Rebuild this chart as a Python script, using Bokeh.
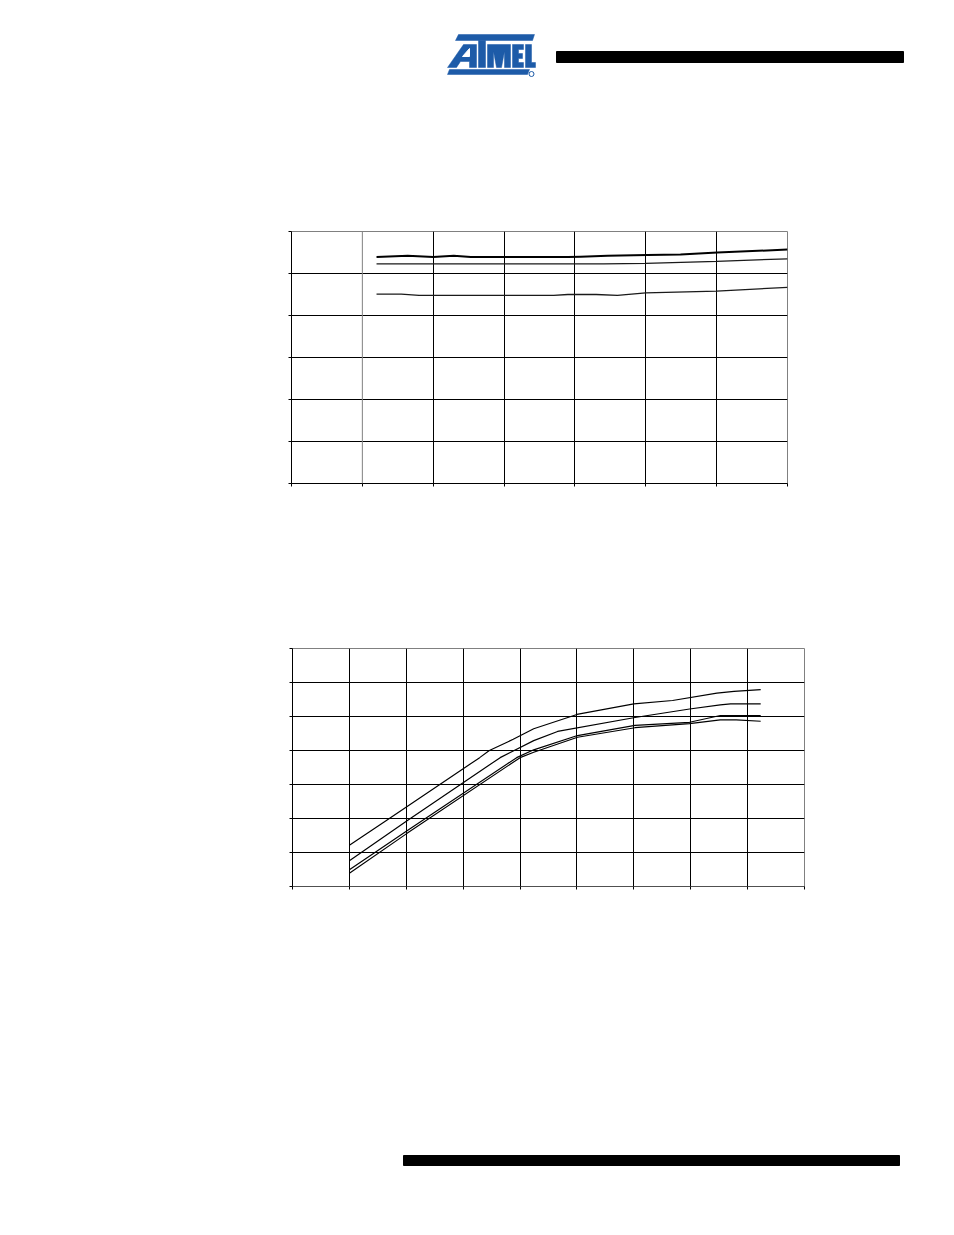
from bokeh.plotting import figure
from bokeh.layouts import column, row
from bokeh.models import Spacer, FixedTicker, Range1d, Span, CustomJSTickFormatter
from bokeh.embed import file_html
from bokeh.resources import INLINE

# ---------------- data (chart units) ----------------
# top chart: x 0..7, y 0..6
top_a_x = [1.20, 1.64, 2.00, 2.29, 2.53, 3.90, 4.08, 4.46, 5.02, 5.49, 6.01, 7.00]
top_a_y = [5.39, 5.42, 5.39, 5.42, 5.39, 5.39, 5.40, 5.42, 5.44, 5.45, 5.50, 5.57]
top_b_x = [1.20, 2.00, 3.00, 4.00, 4.40, 5.00, 6.00, 7.00]
top_b_y = [5.23, 5.23, 5.23, 5.23, 5.23, 5.24, 5.29, 5.35]
top_c_x = [1.20, 1.55, 1.80, 2.00, 3.00, 3.70, 3.90, 4.30, 4.60, 5.00, 6.00, 7.00]
top_c_y = [4.51, 4.51, 4.48, 4.48, 4.48, 4.48, 4.50, 4.50, 4.48, 4.54, 4.58, 4.67]
top_x_ticks = [0, 1, 2, 3, 4, 5, 6, 7]
top_y_ticks = [0, 1, 2, 3, 4, 5, 6]

# bottom chart: x 0..9, y 0..7
bot_1_x = [1.00, 1.65, 3.29, 3.46, 3.88, 4.24, 5.00, 6.00, 6.68, 7.46, 7.76, 8.23]
bot_1_y = [1.21, 1.94, 3.79, 4.00, 4.33, 4.64, 5.06, 5.37, 5.47, 5.69, 5.74, 5.79]
bot_2_x = [1.00, 2.02, 3.65, 4.24, 4.66, 6.02, 6.98, 7.52, 7.70, 8.23]
bot_2_y = [0.76, 1.94, 3.79, 4.29, 4.56, 4.97, 5.22, 5.34, 5.37, 5.37]
bot_3_x = [1.00, 2.02, 3.94, 4.24, 5.01, 6.02, 6.98, 7.52, 8.23]
bot_3_y = [0.49, 1.65, 3.79, 4.02, 4.44, 4.74, 4.83, 5.03, 5.03]
bot_4_x = [1.00, 2.02, 4.00, 4.24, 5.01, 6.02, 6.98, 7.52, 7.80, 8.23]
bot_4_y = [0.39, 1.57, 3.79, 3.95, 4.39, 4.67, 4.79, 4.90, 4.90, 4.86]
bot_x_ticks = list(range(10))
bot_y_ticks = list(range(8))

BLUE = "#1d5ba8"
GREY = "#808080"


def blank(width, height, y0, y1):
    p = figure(width=width, height=height, x_range=Range1d(0, width),
               y_range=Range1d(y1, y0), x_axis_type=None, y_axis_type=None,
               toolbar_location=None, output_backend="svg", min_border=0)
    p.outline_line_color = None
    return p


# ---------------- header ----------------
head = blank(944, 200, 0, 200)
logo_xs = [
    [458, 534, 532, 455],                                  # top bar
    [447, 463, 476, 476, 469, 469, 460, 456],              # A
    [478, 485, 485, 478],                                  # T stem
    [487, 510, 510, 504, 504, 501, 496, 493, 493, 487],    # M
    [512, 523, 523, 518, 518, 522, 522, 518, 518, 523, 523, 512],  # E
    [525, 531, 531, 535, 535, 525],                        # L
    [449, 529, 527, 447],                                  # bottom bar
]
logo_ys = [
    [34, 34, 40, 40],
    [67, 44, 44, 67, 67, 61, 61, 67],
    [40, 40, 67, 67],
    [44, 44, 67, 67, 51, 67, 67, 51, 67, 67],
    [44, 44, 49, 49, 53, 53, 58, 58, 62, 62, 67, 67],
    [44, 44, 62, 62, 67, 67],
    [69, 69, 74, 74],
]
head.patches(logo_xs, logo_ys, fill_color=BLUE, line_color=BLUE, line_width=0.5)
head.patch([462, 469, 469], [56, 56, 48], fill_color="white", line_color="white")
head.scatter([531], [73.5], size=5, marker="circle", fill_color="white",
             line_color=BLUE, line_width=1)
head.quad(left=[556], right=[903], top=[51], bottom=[62], color="black")

NOLABEL = CustomJSTickFormatter(code="return ''")


def chart(fw, fh, xr, yr, xt, yt, xgrid, ygrid, top, bottom, bottom_axis_color):
    p = figure(frame_width=fw, frame_height=fh, x_range=Range1d(*xr), y_range=Range1d(*yr),
               toolbar_location=None, output_backend="svg",
               min_border_left=20, min_border_right=10,
               min_border_top=top, min_border_bottom=bottom)
    p.outline_line_color = GREY
    p.outline_line_width = 1
    p.background_fill_color = "white"
    for ax in (p.xaxis, p.yaxis):
        ax.formatter = NOLABEL
        ax.major_label_standoff = 0
        ax.minor_tick_line_color = None
        ax.major_tick_in = 0
        ax.major_tick_out = 3
        ax.major_tick_line_color = "black"
        ax.axis_line_color = "black"
    p.xaxis.axis_line_color = bottom_axis_color
    p.xaxis.ticker = FixedTicker(ticks=xt)
    p.yaxis.ticker = FixedTicker(ticks=yt)
    p.xgrid.ticker = FixedTicker(ticks=xgrid)
    p.ygrid.ticker = FixedTicker(ticks=ygrid)
    p.xgrid.grid_line_color = "black"
    p.ygrid.grid_line_color = "black"
    p.xgrid.grid_line_alpha = 1
    p.ygrid.grid_line_alpha = 1
    return p


# ---------------- top chart ----------------
c1 = chart(496, 252, (0, 7), (0, 6), top_x_ticks, top_y_ticks,
           top_x_ticks[2:-1], top_y_ticks[1:-1], 31, 17, "black")
c1.add_layout(Span(location=1, dimension="height", line_color=GREY, line_width=1))
c1.line(top_a_x, top_a_y, line_color="black", line_width=2)
c1.line(top_b_x, top_b_y, line_color="#1a1a1a", line_width=1.3)
c1.line(top_c_x, top_c_y, line_color="#1a1a1a", line_width=1.3)

# ---------------- bottom chart ----------------
c2 = chart(512, 238, (0, 9), (0, 7), bot_x_ticks, bot_y_ticks,
           bot_x_ticks[1:-1], bot_y_ticks[1:-1], 148, 20, "#505050")
for xs, ys in ((bot_1_x, bot_1_y), (bot_2_x, bot_2_y), (bot_3_x, bot_3_y), (bot_4_x, bot_4_y)):
    c2.line(xs, ys, line_color="black", line_width=1.2)

# ---------------- footer ----------------
foot = blank(944, 310, 906, 1216)
foot.quad(left=[403], right=[899], top=[1155], bottom=[1165], color="black")

layout = column(
    head,
    row(Spacer(width=271, height=300), c1),
    row(Spacer(width=272, height=406), c2),
    foot,
)

open("out.html", "w").write(file_html(layout, INLINE))
